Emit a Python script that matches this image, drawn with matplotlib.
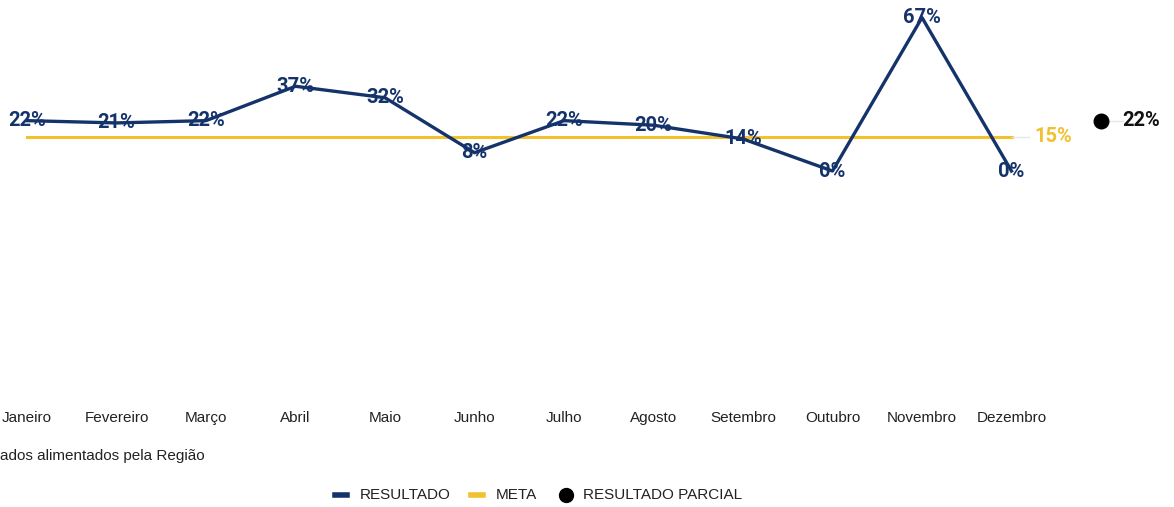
import numpy as np
import matplotlib.pyplot as plt

plt.rcParams['font.family'] = ['Roboto', 'DejaVu Sans']

months = ["Janeiro", "Fevereiro", "Março", "Abril", "Maio", "Junho", "Julho",
          "Agosto", "Setembro", "Outubro", "Novembro", "Dezembro"]
resultado = [22, 21, 22, 37, 32, 8, 22, 20, 14, 0, 67, 0]
meta = [15] * 12
parcial = 22

navy = "#15336b"
yellow = "#f2c12e"

fig = plt.figure(figsize=(11.74, 5.07), dpi=100)
# axes placed so that month i sits at x pixel 27 + 89.5*i
ax = fig.add_axes([0, 107 / 507, 1, 395 / 507])
ax.set_xlim(-27 / 89.5, (1174 - 27) / 89.5)
ax.set_ylim(-100, 72.5)
ax.axis("off")

x = np.arange(len(months))
ax.plot(x, meta, color=yellow, lw=2.2, zorder=1)
ax.plot(x, resultado, color=navy, lw=2.4, zorder=2)

for xi, v in zip(x, resultado):
    ax.text(xi, v, f"{v}%", ha="center", va="center", fontsize=14.5,
            fontweight="bold", color=navy, zorder=3)

# meta label
ax.plot([x[-1], x[-1] + 0.2], [meta[-1], meta[-1]], color="#e6e6e6", lw=1)
ax.text(x[-1] + 0.26, meta[-1], f"{meta[-1]}%", ha="left", va="center",
        fontsize=14.5, fontweight="bold", color=yellow)

# resultado parcial
px = len(months)
ax.plot([px, px + 0.25], [parcial, parcial], color="#e6e6e6", lw=1)
ax.scatter([px], [parcial], s=110, color="black", zorder=3)
ax.text(px + 0.24, parcial, f"{parcial}%", ha="left", va="center",
        fontsize=14.5, fontweight="bold", color="#111111")

# month labels
for xi, m in zip(x, months):
    fig.text((27 + 89.5 * xi) / 1174, 1 - 418 / 507, m, ha="center",
             va="center", fontsize=11, family="Liberation Sans", color="#222222")

fig.text(0, 1 - 456 / 507, "ados alimentados pela Região", ha="left",
         va="center", fontsize=11, family="Liberation Sans", color="#222222")

# legend
ly = 1 - 495 / 507
items = [(341, 360, navy, "RESULTADO", "line"),
         (477, 496, yellow, "META", "line"),
         (566, 583, "black", "RESULTADO PARCIAL", "dot")]
for mx, tx, c, lab, kind in items:
    if kind == "line":
        fig.add_artist(plt.Line2D([(mx - 6) / 1174, (mx + 6) / 1174], [ly, ly],
                                  color=c, lw=4))
    else:
        fig.add_artist(plt.Line2D([mx / 1174], [ly], marker="o", color=c,
                                  markersize=10, lw=0))
    fig.text(tx / 1174, ly, lab, ha="left", va="center", fontsize=11,
             family="Liberation Sans", color="#222222")

plt.savefig("out.png", dpi=100)
